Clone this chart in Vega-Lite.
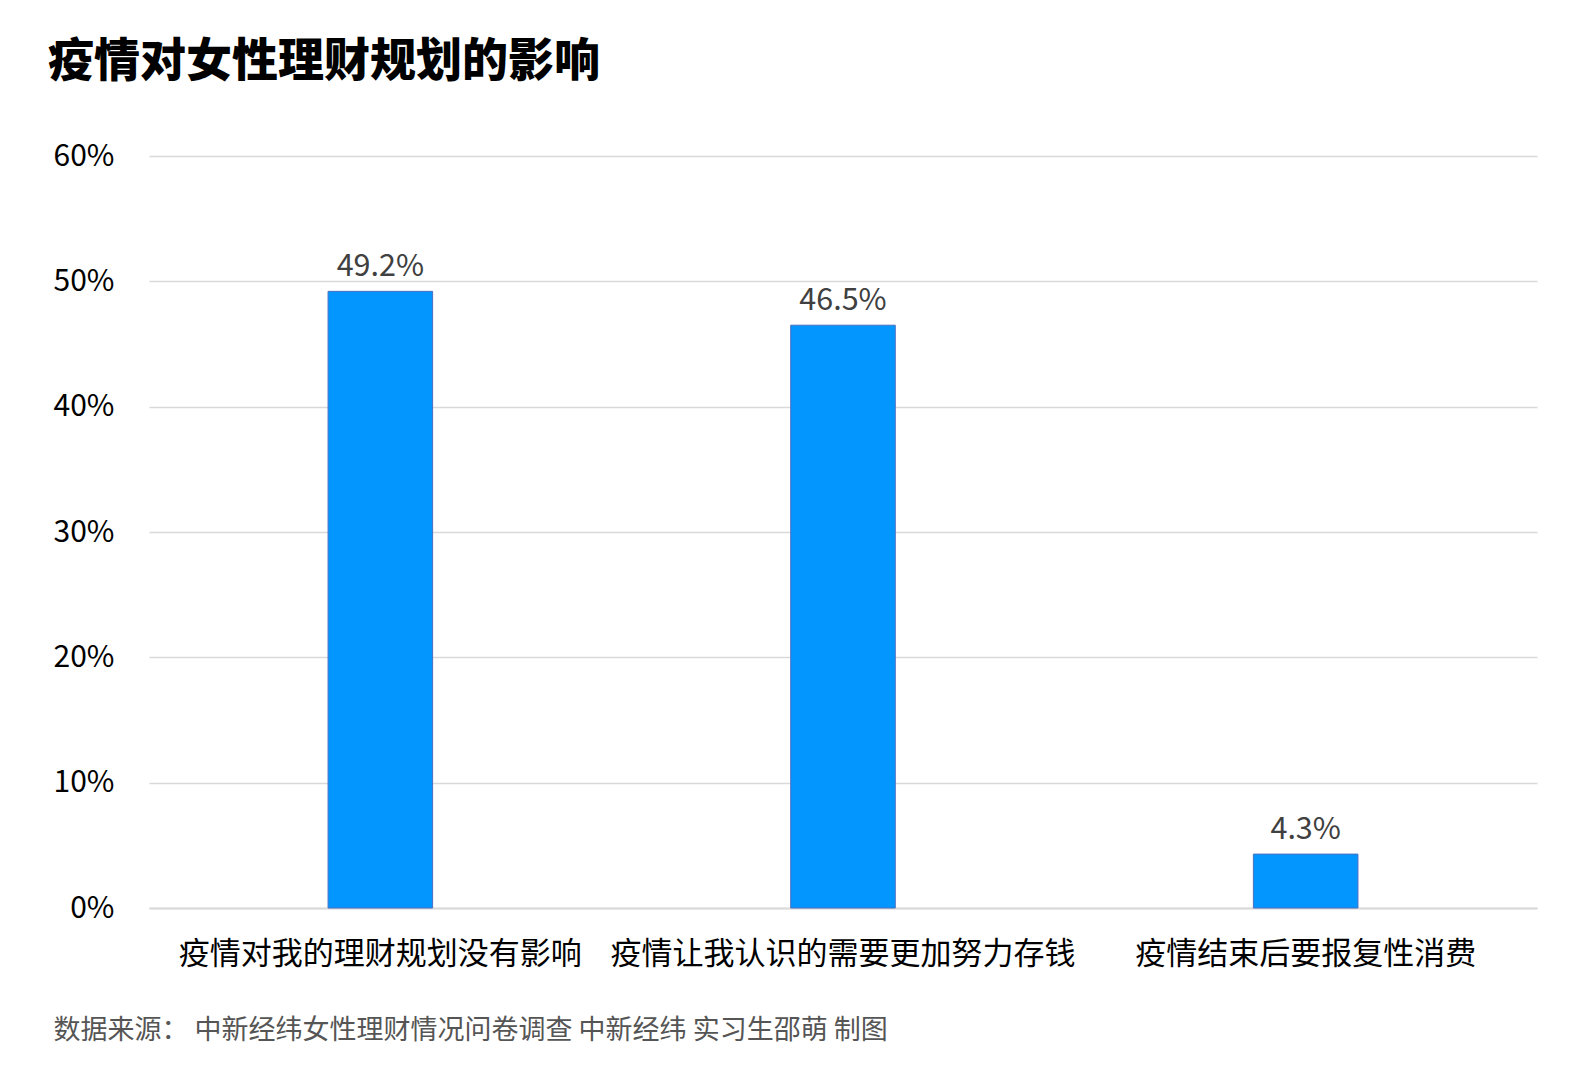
{
  "$schema": "https://vega.github.io/schema/vega-lite/v6.json",
  "autosize": {"type": "none"},
  "width": 1388,
  "height": 752,
  "padding": {"left": 149, "top": 156, "right": 53, "bottom": 169},
  "background": "white",
  "config": {
    "view": {"stroke": null},
    "font": "Noto Sans CJK SC"
  },
  "title": {
    "text": "疫情对女性理财规划的影响",
    "anchor": "start",
    "frame": "group",
    "dx": -101,
    "offset": 55,
    "fontSize": 46,
    "fontWeight": 900,
    "color": "#000000",
    "font": "Noto Sans CJK SC"
  },
  "data": {
    "values": [
      {"category": "疫情对我的理财规划没有影响", "value": 0.492},
      {"category": "疫情让我认识的需要更加努力存钱", "value": 0.465},
      {"category": "疫情结束后要报复性消费", "value": 0.043}
    ]
  },
  "encoding": {
    "x": {
      "field": "category",
      "type": "nominal",
      "sort": null,
      "scale": {"paddingInner": 0.774, "paddingOuter": 0.387},
      "axis": {
        "title": "数据来源：  中新经纬女性理财情况问卷调查 中新经纬 实习生邵萌 制图",
        "titleFontSize": 27,
        "titleFontWeight": "normal",
        "titleColor": "#555555",
        "titleAnchor": "start",
        "titleAlign": "left",
        "titleX": -96,
        "titleY": 122,
        "titleBaseline": "middle",
        "labelAngle": 0,
        "labelFontSize": 31,
        "labelColor": "#000000",
        "labelPadding": 31,
        "ticks": false,
        "domainColor": "#d9d9d9",
        "domainWidth": 2,
        "labelLimit": 600
      }
    },
    "y": {
      "field": "value",
      "type": "quantitative",
      "scale": {"domain": [0, 0.6]},
      "axis": {
        "title": null,
        "values": [0, 0.1, 0.2, 0.3, 0.4, 0.5, 0.6],
        "format": ".0%",
        "labelFontSize": 30,
        "labelColor": "#000000",
        "labelPadding": 35,
        "ticks": false,
        "domain": false,
        "gridColor": "#d9d9d9",
        "gridWidth": 1.5
      }
    }
  },
  "layer": [
    {
      "mark": {"type": "bar", "color": "#0396FF", "stroke": "#4a6fc0", "strokeWidth": 1}
    },
    {
      "mark": {"type": "text", "baseline": "bottom", "dy": -9, "fontSize": 30.5, "color": "#404040"},
      "encoding": {
        "text": {"field": "value", "type": "quantitative", "format": ".1%"}
      }
    }
  ]
}
